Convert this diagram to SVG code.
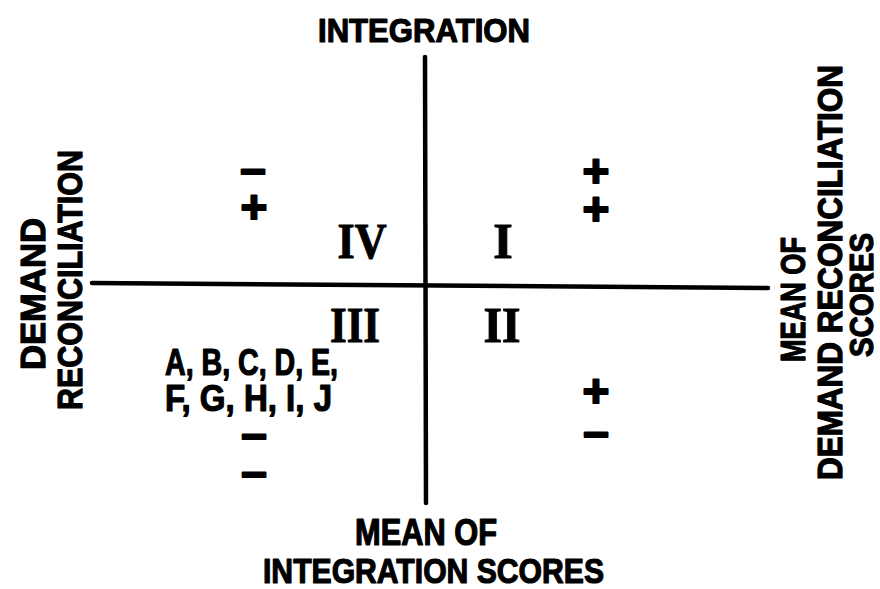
<svg xmlns="http://www.w3.org/2000/svg" width="880" height="589" viewBox="0 0 880 589">
<style>
.lbl{font-family:"Liberation Sans",Arial,sans-serif;font-weight:bold;fill:#000;stroke:#000;stroke-width:1.2;stroke-linejoin:round}
.rom{font-family:"Liberation Serif","Times New Roman",serif;font-weight:bold;fill:#000;stroke:#000;stroke-width:1;text-anchor:middle}
.sgn{font-family:"Liberation Sans",Arial,sans-serif;font-weight:bold;fill:#000;stroke:#000;stroke-width:2;stroke-linejoin:round;text-anchor:middle;font-size:46px}
.ax{stroke:#000;stroke-width:4.5;fill:none;stroke-linecap:round}
</style>
<rect width="880" height="589" fill="#fff"/>
<g id="connectors">
<line class="ax" x1="425" y1="57" x2="426" y2="503"/>
<line class="ax" x1="92" y1="283" x2="768" y2="288"/>
</g>
<g id="axis-top"><text class="lbl" x="318" y="42" font-size="33" textLength="212" lengthAdjust="spacingAndGlyphs">INTEGRATION</text></g>
<g id="axis-bottom">
<text class="lbl" x="355" y="545" font-size="36" textLength="142" lengthAdjust="spacingAndGlyphs">MEAN OF</text>
<text class="lbl" x="263" y="583" font-size="35" textLength="341" lengthAdjust="spacingAndGlyphs">INTEGRATION SCORES</text>
</g>
<g id="axis-left">
<text class="lbl" transform="translate(45,370) rotate(-90)" font-size="35" textLength="152" lengthAdjust="spacingAndGlyphs">DEMAND</text>
<text class="lbl" transform="translate(82,410) rotate(-90)" font-size="35" textLength="260" lengthAdjust="spacingAndGlyphs">RECONCILIATION</text>
</g>
<g id="axis-right">
<text class="lbl" transform="translate(805,362) rotate(-90)" font-size="35" textLength="125" lengthAdjust="spacingAndGlyphs">MEAN OF</text>
<text class="lbl" transform="translate(842,480) rotate(-90)" font-size="35" textLength="415" lengthAdjust="spacingAndGlyphs">DEMAND RECONCILIATION</text>
<text class="lbl" transform="translate(873,357) rotate(-90)" font-size="33" textLength="124" lengthAdjust="spacingAndGlyphs">SCORES</text>
</g>
<g id="quadrant-IV"><text class="rom" x="362" y="258" font-size="50" textLength="49" lengthAdjust="spacingAndGlyphs">IV</text></g>
<g id="quadrant-I"><text class="rom" x="503" y="258" font-size="50">I</text></g>
<g id="quadrant-III"><text class="rom" x="355" y="342" font-size="50" textLength="50" lengthAdjust="spacingAndGlyphs">III</text></g>
<g id="quadrant-II"><text class="rom" x="502" y="342" font-size="50" textLength="37" lengthAdjust="spacingAndGlyphs">II</text></g>
<g id="cases">
<text class="lbl" x="165" y="375" font-size="36" textLength="173" lengthAdjust="spacingAndGlyphs">A, B, C, D, E,</text>
<text class="lbl" x="165" y="411" font-size="36" textLength="167" lengthAdjust="spacingAndGlyphs">F, G, H, I, J</text>
</g>
<g id="signs-IV">
<text class="sgn" x="253" y="184">–</text>
<text class="sgn" x="254" y="223">+</text>
</g>
<g id="signs-I">
<text class="sgn" x="596" y="187">+</text>
<text class="sgn" x="596" y="225">+</text>
</g>
<g id="signs-III">
<text class="sgn" x="254" y="449">–</text>
<text class="sgn" x="254" y="487">–</text>
</g>
<g id="signs-II">
<text class="sgn" x="596" y="407">+</text>
<text class="sgn" x="596" y="447">–</text>
</g>
</svg>
